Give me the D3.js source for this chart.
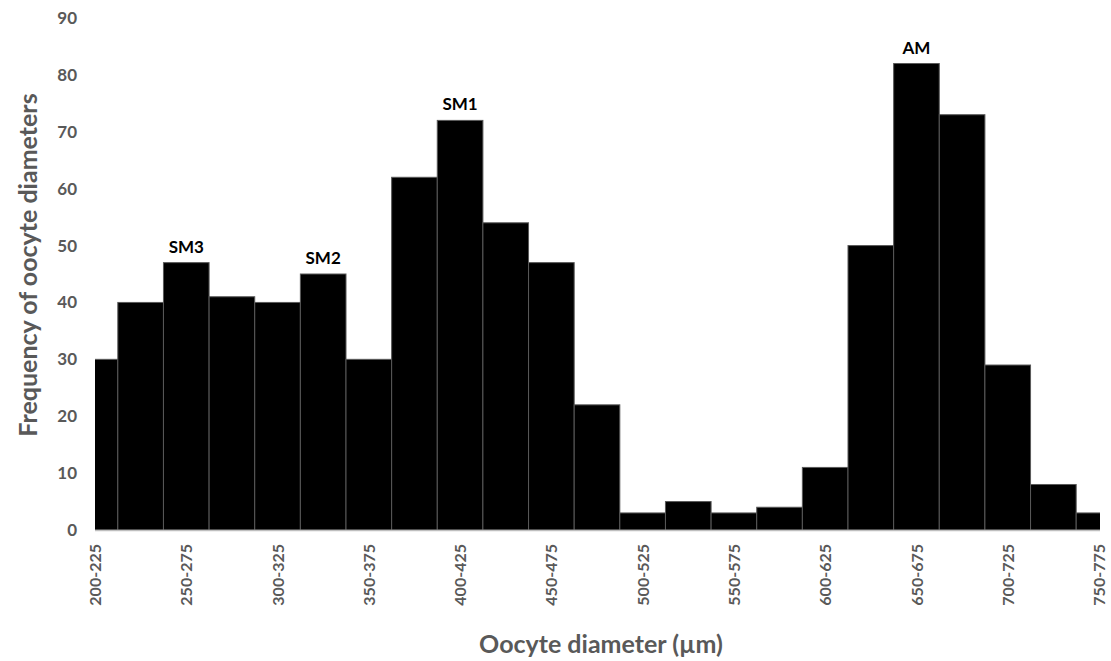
<!DOCTYPE html>
<html>
<head>
<meta charset="utf-8">
<script src="https://cdn.jsdelivr.net/npm/d3@7"></script>
<style>
  html, body { margin: 0; padding: 0; background: #fff; }
  svg { display: block; font-family: Lato, "Open Sans", sans-serif; }
</style>
</head>
<body>
<svg id="chart" width="1111" height="661"></svg>
<script>
// Oocyte diameter size classes (µm)
const classes = [
  "200-225","225-250","250-275","275-300","300-325","325-350","350-375",
  "375-400","400-425","425-450","450-475","475-500","500-525","525-550",
  "550-575","575-600","600-625","625-650","650-675","675-700","700-725",
  "725-750","750-775"
];
// Frequency of oocytes in each class
const frequency = [
  30, 40, 47, 41, 40, 45, 30,
  62, 72, 54, 47, 22, 3, 5,
  3, 4, 11, 50, 82, 73, 29,
  8, 3
];
// Modal group labels and the class they sit over
const modeLabels = ["SM3", "SM2", "SM1", "AM"];
const modeClasses = ["250-275", "325-350", "400-425", "650-675"];
// Y axis ticks
const yTicks = [0, 10, 20, 30, 40, 50, 60, 70, 80, 90];

const svg = d3.select("#chart");
const plotLeft = 95, plotRight = 1100, plotTop = 18, plotBottom = 530;
const font = "Lato, 'Open Sans', sans-serif";

const x = d3.scalePoint().domain(classes).range([plotLeft, plotRight - 1]);
const step = x.step();
const y = d3.scaleLinear().domain([0, 90]).range([plotBottom, plotTop]);

svg.append("defs").append("clipPath").attr("id", "plot")
  .append("rect").attr("x", plotLeft).attr("y", 0)
  .attr("width", plotRight - plotLeft).attr("height", plotBottom + 1);

// Bars, centred on each class tick
svg.append("g").attr("clip-path", "url(#plot)")
  .selectAll("rect").data(classes).join("rect")
  .attr("x", d => x(d) - step / 2)
  .attr("width", step)
  .attr("y", (d, i) => y(frequency[i]))
  .attr("height", (d, i) => y(0) - y(frequency[i]))
  .attr("fill", "#000")
  .attr("stroke", "#595959")
  .attr("stroke-width", 1);

// X axis baseline
svg.append("line")
  .attr("x1", plotLeft).attr("x2", plotRight)
  .attr("y1", plotBottom + 0.5).attr("y2", plotBottom + 0.5)
  .attr("stroke", "#bfbfbf").attr("stroke-width", 1.5);

// Y tick labels
const yAxis = d3.axisLeft(y).tickValues(yTicks).tickSize(0).tickPadding(0);
const gy = svg.append("g").attr("transform", "translate(77,0)").call(yAxis);
gy.select(".domain").remove();
gy.selectAll("text")
  .attr("fill", "#595959").attr("font-size", 17).attr("font-weight", 700)
  .attr("font-family", font);

// X tick labels, every other class, rotated
const xAxis = d3.axisBottom(x)
  .tickValues(classes.filter((d, i) => i % 2 === 0))
  .tickSize(0).tickPadding(0);
const gx = svg.append("g").attr("transform", `translate(0,${plotBottom})`).call(xAxis);
gx.select(".domain").remove();
gx.selectAll("text")
  .attr("fill", "#595959").attr("font-size", 16).attr("font-weight", 700)
  .attr("font-family", font)
  .attr("transform", "rotate(-90)")
  .attr("text-anchor", "end")
  .attr("x", -14).attr("y", 0).attr("dy", "0.35em");

// Mode labels above their bars
svg.append("g").selectAll("text").data(modeLabels).join("text")
  .attr("x", (d, i) => x(modeClasses[i]))
  .attr("y", (d, i) => y(frequency[classes.indexOf(modeClasses[i])]) - 10)
  .attr("text-anchor", "middle")
  .attr("font-size", 17).attr("font-weight", 700).attr("fill", "#000")
  .attr("font-family", font)
  .text(d => d);

// Axis titles
svg.append("text")
  .attr("x", 601).attr("y", 653)
  .attr("text-anchor", "middle")
  .attr("font-size", 25).attr("font-weight", 700).attr("fill", "#595959")
  .attr("font-family", font)
  .text("Oocyte diameter (µm)");

svg.append("text")
  .attr("transform", "translate(37,265) rotate(-90)")
  .attr("text-anchor", "middle")
  .attr("font-size", 25).attr("font-weight", 700).attr("fill", "#595959")
  .attr("font-family", font)
  .text("Frequency of oocyte diameters");
</script>
</body>
</html>
